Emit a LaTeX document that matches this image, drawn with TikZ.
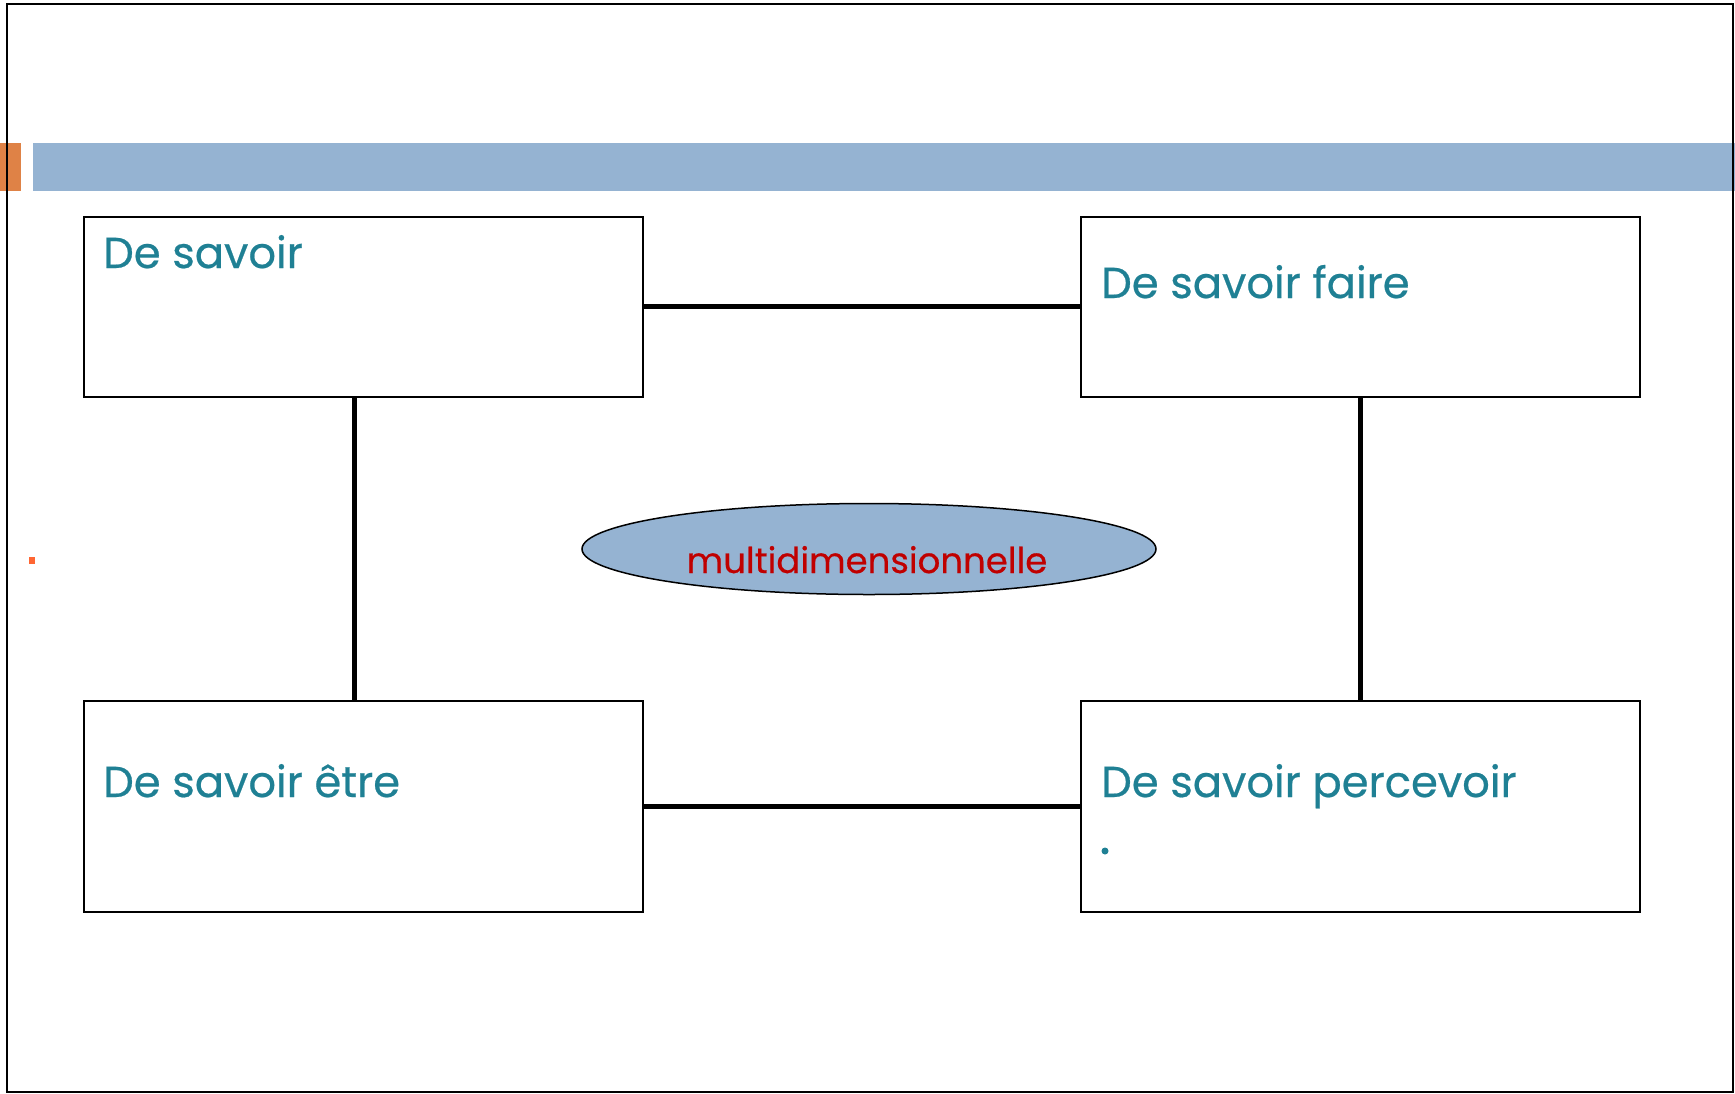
\documentclass[tikz,border=0pt]{standalone}
\usepackage{fontspec}
\setmainfont{Poppins}
\newfontfamily\popb[FakeBold=0.5]{Poppins}
\usetikzlibrary{shapes.geometric}
\definecolor{tealtxt}{RGB}{31,128,148}
\definecolor{redtxt}{RGB}{192,0,0}
\definecolor{barblue}{RGB}{149,179,210}
\definecolor{barorange}{RGB}{223,130,70}
\definecolor{dotorange}{RGB}{255,102,51}
\tikzset{
  box/.style={draw=black, line width=1.8pt, fill=white, anchor=north west, inner sep=0pt, minimum width=559pt, minimum height=180pt},
  lbl/.style={anchor=base west, inner sep=0pt, text=tealtxt, font=\popb\fontsize{43.3}{48}\selectfont},
  conn/.style={draw=black, line width=5pt},
}
\begin{document}
\begin{tikzpicture}[x=1pt,y=-1pt]
\useasboundingbox (0,0) rectangle (1735,1093);
\fill[white] (0,0) rectangle (1735,1093);
% top bar
\fill[barorange] (0,143) rectangle (21,191);
\fill[barblue] (33,143) rectangle (1735,191);
% small dot on left
\fill[dotorange] (29,557) rectangle (35,564);
% boxes
\node[box] (b1) at (83,216) {};
\node[box] (b2) at (1080,216) {};
\node[box, minimum height=211pt] (b3) at (83,700) {};
\node[box, minimum height=211pt] (b4) at (1080,700) {};
% connectors
\draw[conn] (b1.east) -- (b2.west);
\draw[conn] (b3.east) -- (b4.west);
\draw[conn] ([xshift=-8.5pt]b1.south) -- ([xshift=-8.5pt]b3.north);
\draw[conn] (b2.south) -- (b4.north);
% ellipse
\node[ellipse, draw=black, line width=1.5pt, fill=barblue, minimum width=574pt, minimum height=91pt, inner sep=0pt] (el) at (869,549) {};
\node[anchor=base, inner sep=0pt, text=redtxt, font=\popb\fontsize{35.5}{42}\selectfont] (mt) at (867,573) {multidimensionnelle};
% labels
\node[lbl] (t1) at (103,268) {De savoir};
\node[lbl] (t2) at (1101,298) {De savoir faire};
\node[lbl] (t3) at (103,797) {De savoir être};
\node[lbl] (t4) at (1101,797) {De savoir percevoir};
\node[circle, fill=tealtxt, inner sep=0pt, minimum size=7pt] (dt) at (1105,851) {};
% outer border
\draw[black, line width=2.5pt] (7,4) rectangle (1733,1092);
\end{tikzpicture}
\end{document}
